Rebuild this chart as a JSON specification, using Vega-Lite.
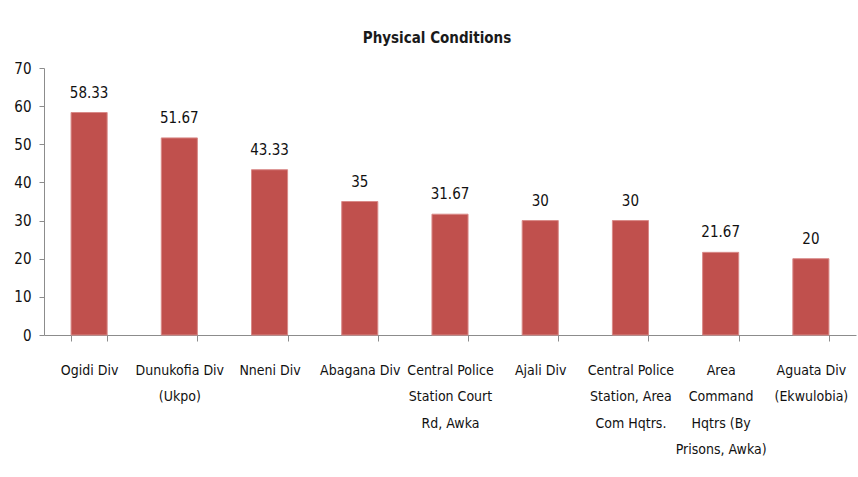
{
  "$schema": "https://vega.github.io/schema/vega-lite/v6.json",
  "width": 812,
  "height": 267,
  "autosize": {"type": "none"},
  "padding": {"left": 44, "top": 68, "right": 2, "bottom": 142},
  "background": "white",
  "title": {
    "text": "Physical Conditions",
    "font": "'DejaVu Sans Condensed', Roboto, sans-serif",
    "fontSize": 15,
    "fontWeight": "bold",
    "color": "#1a1a1a",
    "anchor": "middle",
    "dx": -13,
    "offset": 15
  },
  "data": {
    "values": [
      {"station": "Ogidi Div", "value": 58.33, "label": "58.33"},
      {"station": "Dunukofia Div\n(Ukpo)", "value": 51.67, "label": "51.67"},
      {"station": "Nneni Div", "value": 43.33, "label": "43.33"},
      {"station": "Abagana Div", "value": 35, "label": "35"},
      {"station": "Central Police\nStation Court\nRd, Awka", "value": 31.67, "label": "31.67"},
      {"station": "Ajali Div", "value": 30, "label": "30"},
      {"station": "Central Police\nStation, Area\nCom Hqtrs.", "value": 30, "label": "30"},
      {"station": "Area\nCommand\nHqtrs  (By\nPrisons, Awka)", "value": 21.67, "label": "21.67"},
      {"station": "Aguata Div\n(Ekwulobia)", "value": 20, "label": "20"}
    ]
  },
  "config": {
    "view": {"stroke": null},
    "axis": {
      "labelFont": "'DejaVu Sans Condensed', Roboto, sans-serif",
      "labelFontSize": 14,
      "labelColor": "#111",
      "domainColor": "#8c8c8c",
      "tickColor": "#8c8c8c",
      "grid": false,
      "title": null
    }
  },
  "encoding": {
    "x": {
      "field": "station",
      "type": "nominal",
      "sort": null,
      "scale": {"paddingInner": 0.6, "paddingOuter": 0.3},
      "axis": {
        "labelAngle": 0,
        "labelExpr": "split(datum.label, '\\n')",
        "labelLineHeight": 26.5,
        "labelBaseline": "top",
        "labelPadding": 22,
        "tickSize": 6,
        "tickBand": "extent",
        "labelLimit": 200
      }
    },
    "y": {
      "field": "value",
      "type": "quantitative",
      "scale": {"domain": [0, 70]},
      "axis": {"values": [0, 10, 20, 30, 40, 50, 60, 70], "tickSize": 5, "labelPadding": 8, "labelFontSize": 15}
    }
  },
  "layer": [
    {"mark": {"type": "bar", "color": "#C0504D", "stroke": "#D98A88", "strokeWidth": 1}},
    {
      "mark": {"type": "text", "font": "'DejaVu Sans Condensed', Roboto, sans-serif", "fontSize": 15, "color": "#111", "baseline": "alphabetic", "dy": -15},
      "encoding": {"text": {"field": "label"}}
    }
  ]
}
